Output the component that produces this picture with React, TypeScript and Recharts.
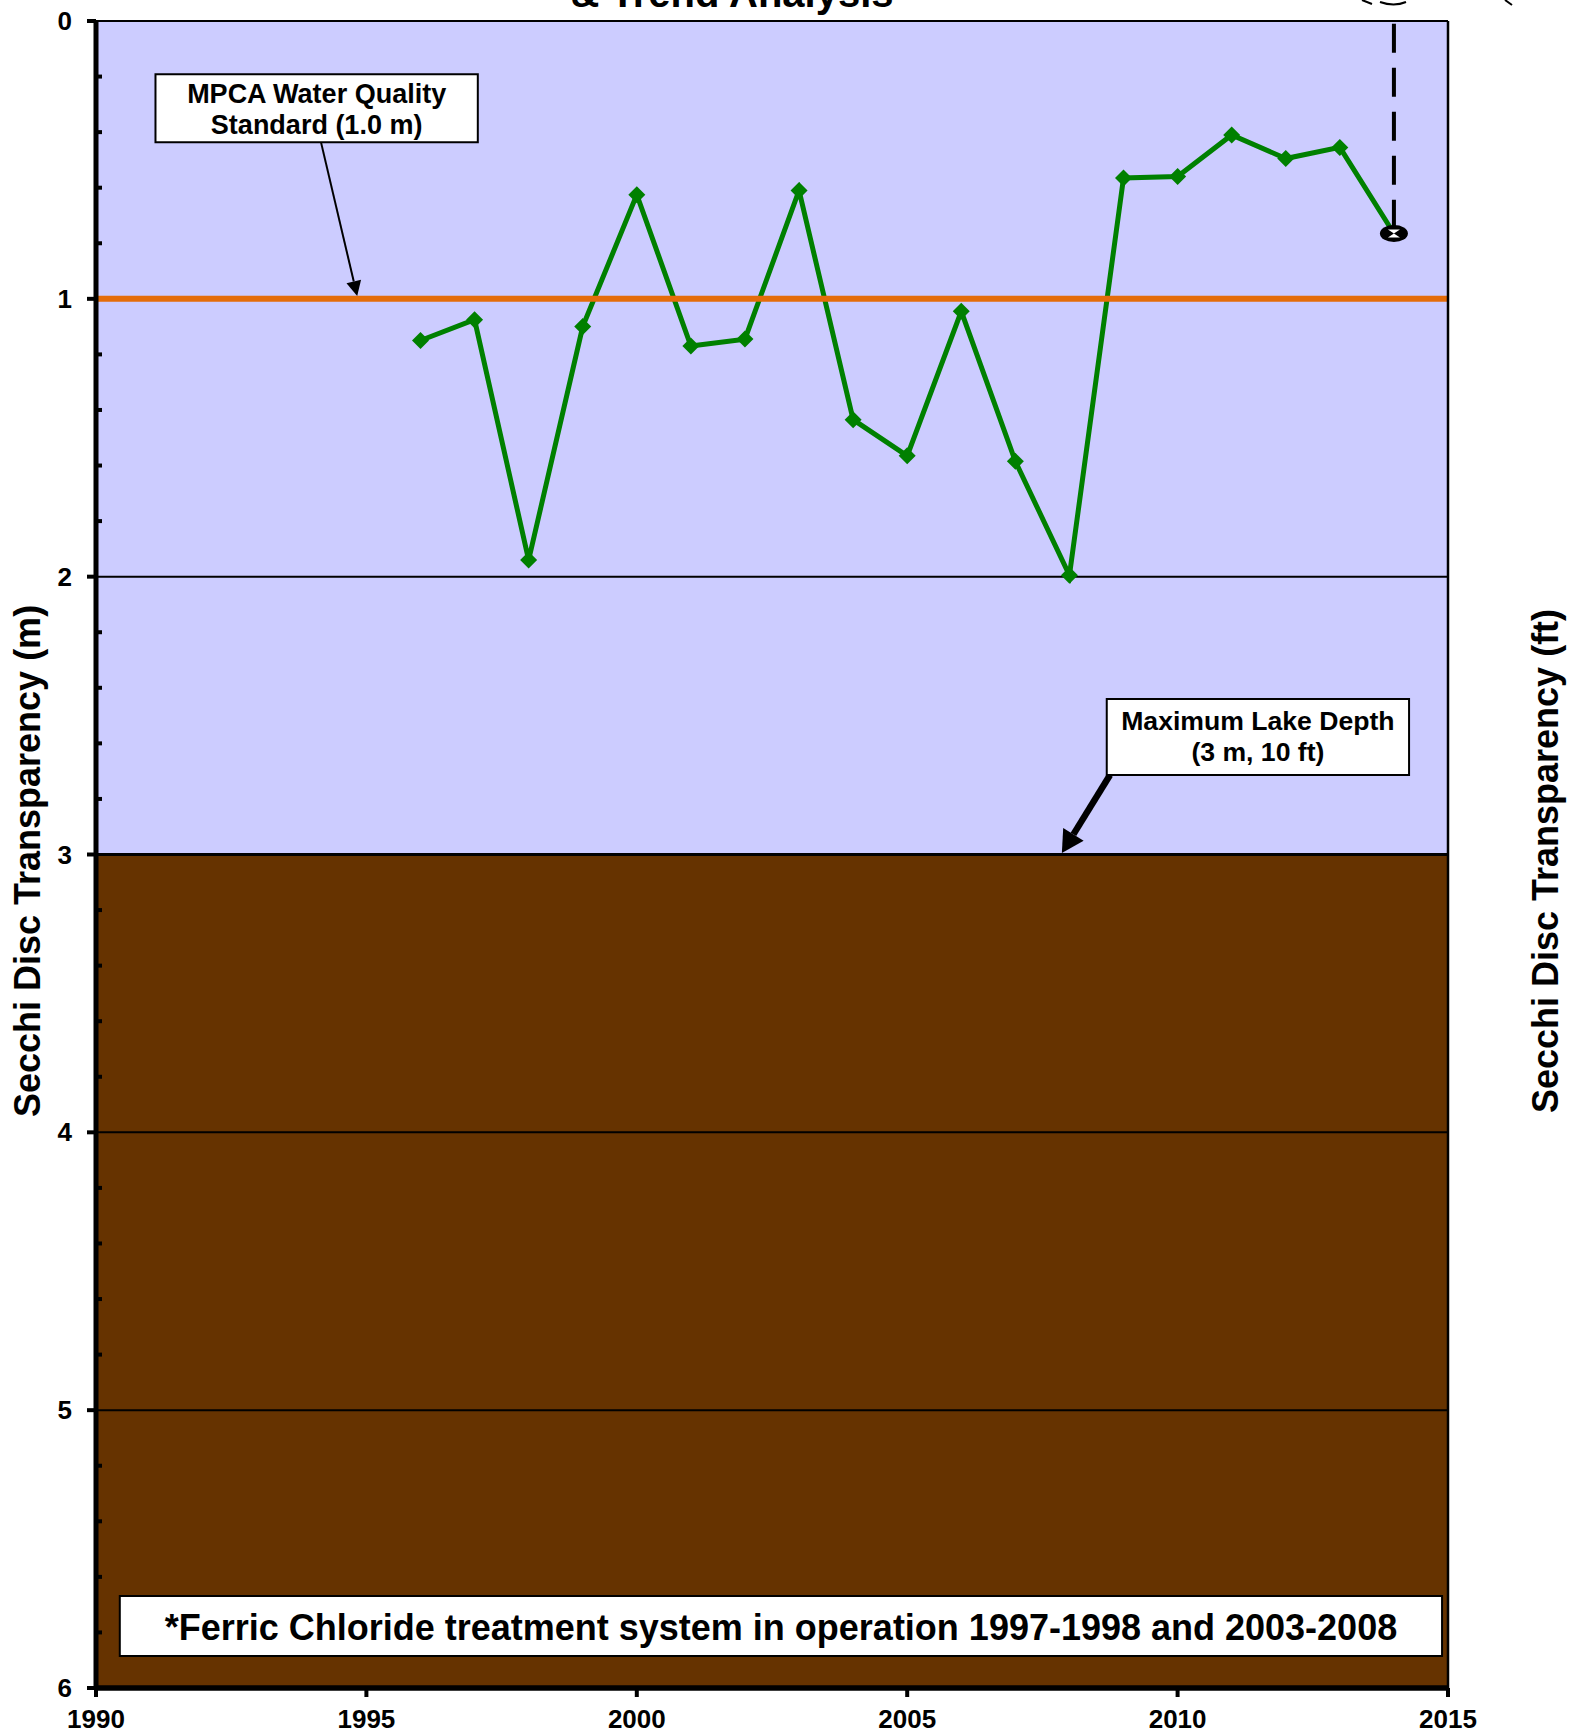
import {
  Line,
  LineChart,
  ReferenceArea,
  ReferenceLine,
  XAxis,
  YAxis,
} from "recharts";

const FONT = "'Liberation Sans', Arial, sans-serif";

// annual Secchi depth, metres
const YEARS = [1996, 1997, 1998, 1999, 2000, 2001, 2002, 2003, 2004, 2005, 2006, 2007, 2008, 2009, 2010, 2011, 2012, 2013, 2014];
const SECCHI_M = [1.15, 1.075, 1.94, 1.1, 0.625, 1.17, 1.145, 0.61, 1.435, 1.565, 1.045, 1.585, 1.995, 0.565, 0.56, 0.41, 0.495, 0.455, 0.765];

const X_TICKS = [1990, 1995, 2000, 2005, 2010, 2015];
const Y_TICKS_M = [0, 0.2, 0.4, 0.6, 0.8, 1, 1.2, 1.4, 1.6, 1.8, 2, 2.2, 2.4, 2.6, 2.8, 3, 3.2, 3.4, 3.6, 3.8, 4, 4.2, 4.4, 4.6, 4.8, 5, 5.2, 5.4, 5.6, 5.8, 6];
const Y_TICKS_FT = [0, 3.3, 6.6, 9.9, 13.2, 16.5, 19.8];
const GRID_M = [0, 2, 3, 4, 5];

const STANDARD_M = 1;
const LAKE_DEPTH_M = 3;
const TREND_YEAR = 2014;
const TREND_END_M = 0.765;

const chartData = YEARS.map((year, i) => ({ year, secchi: SECCHI_M[i] }));

function LeftTick({ x, y, payload }: any) {
  const major = Number.isInteger(payload.value);
  return (
    <g>
      {major ? (
        <line x1={x - 9} x2={x} y1={y} y2={y} stroke="#000" strokeWidth={4} />
      ) : (
        <line x1={x} x2={x + 6} y1={y} y2={y} stroke="#000" strokeWidth={4} />
      )}
      {major && (
        <text x={x - 24} y={y + 9} textAnchor="end" fontFamily={FONT} fontWeight="bold" fontSize={26}>
          {payload.value}
        </text>
      )}
    </g>
  );
}

function RightTick({ x, y, payload }: any) {
  return (
    <text x={x + 25} y={y + 9} fontFamily={FONT} fontWeight="bold" fontSize={26}>
      {payload.value.toFixed(1)}
    </text>
  );
}

function BottomTick({ x, y, payload }: any) {
  return (
    <g>
      <line x1={x} x2={x} y1={y} y2={y + 9} stroke="#000" strokeWidth={4} />
      <text x={x} y={y + 40} textAnchor="middle" fontFamily={FONT} fontWeight="bold" fontSize={26}>
        {payload.value}
      </text>
    </g>
  );
}

function SecchiDot({ cx, cy, payload }: any) {
  if (payload.year === TREND_YEAR) {
    return (
      <g key={payload.year}>
        <ellipse cx={cx} cy={cy} rx={14} ry={8.5} fill="#000" />
        <path d={`M${cx - 6} ${cy - 4}h12l-6 4 6 4h-12l6-4z`} fill="#fff" />
      </g>
    );
  }
  return <path key={payload.year} d={`M${cx} ${cy - 8.5}l8.5 8.5-8.5 8.5-8.5-8.5z`} fill="#008000" />;
}

// white callout text, centred in its ReferenceArea
const boxLabel = (lines: string[], fontSize: number, lineHeight: number, shift = 0) =>
  function BoxLabel({ viewBox }: any) {
    const cx = viewBox.x + viewBox.width / 2;
    const cy = viewBox.y + viewBox.height / 2;
    const first = cy - ((lines.length - 1) * lineHeight) / 2 + fontSize * 0.35 + shift;
    return (
      <text textAnchor="middle" fontFamily={FONT} fontWeight="bold" fontSize={fontSize}>
        {lines.map((line, i) => (
          <tspan key={line} x={cx} y={first + i * lineHeight}>
            {line}
          </tspan>
        ))}
      </text>
    );
  };

const arrowShape = (width: number, headLength: number, headWidth: number) =>
  function Arrow({ x1, y1, x2, y2 }: any) {
    const len = Math.hypot(x2 - x1, y2 - y1);
    const ux = (x2 - x1) / len;
    const uy = (y2 - y1) / len;
    const bx = x2 - ux * headLength;
    const by = y2 - uy * headLength;
    const px = (-uy * headWidth) / 2;
    const py = (ux * headWidth) / 2;
    return (
      <g>
        <line x1={x1} y1={y1} x2={bx} y2={by} stroke="#000" strokeWidth={width} />
        <polygon points={`${x2},${y2} ${bx + px},${by + py} ${bx - px},${by - py}`} fill="#000" />
      </g>
    );
  };

export default function App() {
  return (
    <div style={{ position: "absolute", left: 0, top: 0, width: 1573, height: 1734, overflow: "hidden" }}>
      <LineChart
        width={1573}
        height={1734}
        data={chartData}
        margin={{ top: 21, right: 25, bottom: 6, left: 36 }}
      >
        <XAxis
          dataKey="year"
          type="number"
          domain={[1990, 2015]}
          ticks={X_TICKS}
          interval={0}
          height={40}
          tickSize={0}
          tickMargin={0}
          tick={BottomTick}
          axisLine={false}
          tickLine={false}
        />
        <YAxis
          yAxisId="m"
          width={60}
          reversed
          domain={[0, 6]}
          ticks={Y_TICKS_M}
          interval={0}
          tickSize={0}
          tickMargin={0}
          tick={LeftTick}
          axisLine={false}
          tickLine={false}
        />
        <YAxis
          yAxisId="ft"
          orientation="right"
          width={100}
          reversed
          domain={[0, 19.8]}
          ticks={Y_TICKS_FT}
          interval={0}
          tickSize={0}
          tickMargin={0}
          tick={RightTick}
          axisLine={false}
          tickLine={false}
        />

        <ReferenceArea yAxisId="m" y1={0} y2={LAKE_DEPTH_M} fill="#CCCCFF" fillOpacity={1} stroke="none" />
        <ReferenceArea yAxisId="m" y1={LAKE_DEPTH_M} y2={6} fill="#663300" fillOpacity={1} stroke="none" />
        {GRID_M.map((y) => (
          <ReferenceLine key={y} yAxisId="m" y={y} stroke="#000" strokeWidth={y === 3 ? 3 : 2} />
        ))}

        <ReferenceLine
          yAxisId="m"
          segment={[{ x: TREND_YEAR, y: 0.01 }, { x: TREND_YEAR, y: TREND_END_M }]}
          stroke="#000"
          strokeWidth={4}
          strokeDasharray="29 15"
        />

        <Line
          yAxisId="m"
          dataKey="secchi"
          stroke="#008000"
          strokeWidth={5}
          dot={SecchiDot}
          isAnimationActive={false}
        />

        <ReferenceLine yAxisId="m" y={STANDARD_M} stroke="#E46C0A" strokeWidth={6} zIndex={450} />

        {/* plot frame, heavy on the left and bottom */}
        <ReferenceLine yAxisId="m" x={1990} stroke="#000" strokeWidth={5} zIndex={600} />
        <ReferenceLine yAxisId="m" x={2015} stroke="#000" strokeWidth={2.5} zIndex={600} />
        <ReferenceLine yAxisId="m" y={6} stroke="#000" strokeWidth={5.5} zIndex={600} />

        <ReferenceLine
          yAxisId="m"
          segment={[{ x: 1994.16, y: 0.436 }, { x: 1994.83, y: 0.99 }]}
          shape={arrowShape(2, 15, 15)}
          zIndex={500}
        />
        <ReferenceLine
          yAxisId="m"
          segment={[{ x: 2008.75, y: 2.714 }, { x: 2007.86, y: 2.995 }]}
          shape={arrowShape(6.5, 22, 24)}
          zIndex={500}
        />

        <ReferenceArea
          yAxisId="m"
          x1={1991.1}
          x2={1997.06}
          y1={0.192}
          y2={0.436}
          fill="#fff"
          fillOpacity={1}
          stroke="#000"
          strokeWidth={2}
          label={boxLabel(["MPCA Water Quality", "Standard (1.0 m)"], 27, 31, 1)}
          zIndex={500}
        />
        <ReferenceArea
          yAxisId="m"
          x1={2008.69}
          x2={2014.28}
          y1={2.44}
          y2={2.714}
          fill="#fff"
          fillOpacity={1}
          stroke="#000"
          strokeWidth={2}
          label={boxLabel(["Maximum Lake Depth", "(3 m, 10 ft)"], 26.6, 31, -1)}
          zIndex={500}
        />
        <ReferenceArea
          yAxisId="m"
          x1={1990.44}
          x2={2014.89}
          y1={5.669}
          y2={5.885}
          fill="#fff"
          fillOpacity={1}
          stroke="#000"
          strokeWidth={2}
          label={boxLabel(["*Ferric Chloride treatment system in operation 1997-1998 and 2003-2008"], 36, 0, 1)}
          zIndex={500}
        />

        <text x={732} y={7} textAnchor="middle" fontFamily={FONT} fontWeight="bold" fontSize={40}>
          & Trend Analysis
        </text>
        <text
          transform="translate(40 861) rotate(-90)"
          textAnchor="middle"
          fontFamily={FONT}
          fontWeight="bold"
          fontSize={36}
        >
          Secchi Disc Transparency (m)
        </text>
        <text
          transform="translate(1558 861) rotate(-90)"
          textAnchor="middle"
          fontFamily={FONT}
          fontWeight="bold"
          fontSize={36}
        >
          Secchi Disc Transparency (ft)
        </text>
        {/* bits of the clipped logo above the plot */}
        <path d="M1362 0l10 4M1380 2q14 5 26 0M1505 0l7 5" stroke="#000" strokeWidth={2} fill="none" />
      </LineChart>
    </div>
  );
}
